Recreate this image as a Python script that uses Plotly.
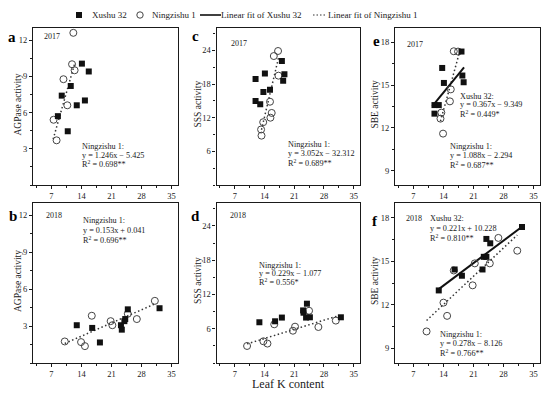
import plotly.graph_objects as go

# ---------------- data ----------------
# Panel a (2017, AGPase)
a_xushu_x = [14.1, 15.7, 11.5, 9.4, 14.8, 12.9, 8.5, 10.8]
a_xushu_y = [10.05, 9.4, 8.2, 7.4, 7.0, 6.6, 5.7, 4.45]
a_ning_x = [12.1, 11.8, 12.4, 9.8, 10.7, 7.5, 8.2]
a_ning_y = [12.6, 10.0, 9.5, 8.76, 6.6, 5.4, 3.7]

# Panel b (2018, AGPase)
b_xushu_x = [12.9, 16.5, 18.3, 23.2, 23.4, 24.0, 24.2, 24.8, 32.2]
b_xushu_y = [3.07, 2.85, 1.67, 3.07, 2.71, 3.4, 3.57, 4.36, 4.45]
b_ning_x = [10.1, 13.9, 14.8, 16.4, 20.8, 21.2, 24.8, 26.9, 31.1]
b_ning_y = [1.75, 1.7, 1.37, 3.84, 3.4, 3.07, 4.0, 3.57, 5.05]

# Panel c (2017, SSS)
c_xushu_x = [18.1, 18.7, 18.4, 11.9, 14.1, 15.3, 13.75, 11.9, 13.0]
c_xushu_y = [22.1, 19.75, 18.6, 18.9, 19.9, 17.0, 16.6, 15.0, 14.4]
c_ning_x = [17.2, 16.2, 17.3, 15.3, 15.7, 15.4, 13.7, 13.2, 13.3]
c_ning_y = [23.9, 23.0, 19.5, 14.85, 12.85, 12.0, 11.2, 9.9, 8.8]

# Panel d (2018, SSS)
d_xushu_x = [12.8, 16.5, 18.1, 23.1, 23.2, 24.0, 23.8, 24.7, 32.0]
d_xushu_y = [7.13, 7.3, 7.95, 9.2, 8.8, 10.38, 7.95, 8.0, 8.0]
d_ning_x = [9.9, 13.75, 14.7, 16.3, 20.7, 21.2, 24.5, 26.7, 30.8]
d_ning_y = [2.98, 3.8, 3.4, 6.77, 5.65, 6.36, 9.14, 6.3, 7.42]

# Panel e (2017, SBE)
e_xushu_x = [18.2, 13.7, 14.1, 18.4, 18.7, 11.9, 12.9, 11.9]
e_xushu_y = [17.35, 16.2, 15.15, 15.67, 15.2, 13.6, 13.6, 13.0]
e_ning_x = [16.4, 17.4, 15.7, 15.5, 13.5, 13.3, 13.9]
e_ning_y = [17.37, 17.35, 14.7, 13.86, 13.07, 12.65, 11.6]

# Panel f (2018, SBE)
f_xushu_x = [12.9, 16.6, 18.3, 23.1, 23.4, 24.0, 24.0, 24.9, 32.3]
f_xushu_y = [12.99, 14.43, 14.0, 14.43, 15.3, 15.3, 16.53, 16.23, 17.35]
f_ning_x = [10.06, 14.0, 14.85, 16.4, 20.8, 21.3, 24.8, 26.8, 31.2]
f_ning_y = [10.17, 12.15, 11.24, 14.36, 13.34, 14.85, 14.85, 16.6, 15.72]

# fit lines (slope, intercept, x start, x end) as drawn
ning_fit_slope = [1.246, 0.153, 3.2, 0.229, 1.088, 0.278]
ning_fit_intercept = [-5.425, 0.041, -32.7, 1.077, -2.0, 8.126]
ning_fit_xmin = [7.4, 10.1, 13.3, 9.9, 13.3, 10.06]
ning_fit_xmax = [12.4, 31.1, 17.3, 31.0, 17.6, 31.2]
xushu_fit_slope = [None, None, None, None, 0.367, 0.221]
xushu_fit_intercept = [None, None, None, None, 9.349, 10.228]
xushu_fit_xmin = [None, None, None, None, 11.4, 12.9]
xushu_fit_xmax = [None, None, None, None, 18.8, 32.3]

panel_letters = ["a", "b", "c", "d", "e", "f"]
panel_years = ["2017", "2018", "2017", "2018", "2017", "2018"]
y_titles = ["AGPase activity", "AGPase activity", "SSS activity", "SSS activity",
            "SBE activity", "SBE activity"]
x_title = "Leaf K content"
x_ticks = [7, 14, 21, 28, 35]
y_ticks_agp = [3, 6, 9, 12]
y_ticks_sss = [6, 12, 18, 24]
y_ticks_sbe = [9, 12, 15, 18]

ning_labels = [
    ["Ningzishu 1:", "y = 1.246x − 5.425", "R<sup>2</sup> = 0.698**"],
    ["Ningzishu 1:", "y = 0.153x + 0.041", "R<sup>2</sup> = 0.696**"],
    ["Ningzishu 1:", "y = 3.052x − 32.312", "R<sup>2</sup> = 0.689**"],
    ["Ningzishu 1:", "y = 0.229x − 1.077", "R<sup>2</sup> = 0.556*"],
    ["Ningzishu 1:", "y = 1.088x − 2.294", "R<sup>2</sup> = 0.687**"],
    ["Ningzishu 1:", "y = 0.278x − 8.126", "R<sup>2</sup> = 0.766**"],
]
xushu_labels = [None, None, None, None,
                ["Xushu 32:", "y = 0.367x − 9.349", "R<sup>2</sup> = 0.449*"],
                ["Xushu 32:", "y = 0.221x + 10.228", "R<sup>2</sup> = 0.810**"]]
legend_names = ["Xushu 32", "Ningzishu 1", "Linear fit of Xushu 32", "Linear fit of Ningzishu 1"]

# ---------------- layout geometry (pixels) ----------------
W, H = 550, 394
col_px = [(33, 178), (216.5, 360), (395, 540)]
row_px = [(28, 185), (203, 363)]
ytitle_x = [18, 198, 375]

def xd(px):
    return px / W

def yd(py):
    return 1 - py / H

FONT = "Liberation Serif, Times New Roman, serif"
INK = "#1a1a1a"
TXT = 8.2

panels = [
    (a_xushu_x, a_xushu_y, a_ning_x, a_ning_y, 0, 0, [0, 13], y_ticks_agp, 1.5),
    (b_xushu_x, b_xushu_y, b_ning_x, b_ning_y, 0, 1, [0, 13], y_ticks_agp, 1.5),
    (c_xushu_x, c_xushu_y, c_ning_x, c_ning_y, 1, 0, [0, 28], y_ticks_sss, 3),
    (d_xushu_x, d_xushu_y, d_ning_x, d_ning_y, 1, 1, [0, 28], y_ticks_sss, 3),
    (e_xushu_x, e_xushu_y, e_ning_x, e_ning_y, 2, 0, [8, 19], y_ticks_sbe, 1.5),
    (f_xushu_x, f_xushu_y, f_ning_x, f_ning_y, 2, 1, [8, 19], y_ticks_sbe, 1.5),
]

# text placement in pixels: (left x, first-line centre y, line step)
ning_pos = [(80, 146, 9), (81, 220, 10), (286, 144, 9.3), (257, 265, 8.5), (448, 146, 9.5), (438, 334, 9.7)]
xushu_pos = [None, None, None, None, (458, 96, 9), (428, 219, 9.3)]
year_pos = [(42, 36), (44, 215), (229, 43), (228, 215), (405, 44), (404, 219)]
letter_px = [(12, 37), (13, 216), (195, 36), (195, 216), (376, 41), (375, 221)]

fig = go.Figure()
layout = dict(
    width=W, height=H,
    margin=dict(l=0, r=0, t=0, b=0),
    paper_bgcolor="white", plot_bgcolor="white",
    font=dict(family=FONT, color=INK, size=9),
    showlegend=False,
)
annotations = []
shapes = []

for i, (xx, xy, nx, ny, col, row, yr, yt, ydt) in enumerate(panels):
    k = i + 1
    xa = "x" if k == 1 else f"x{k}"
    ya = "y" if k == 1 else f"y{k}"
    xname = "xaxis" if k == 1 else f"xaxis{k}"
    yname = "yaxis" if k == 1 else f"yaxis{k}"
    x0, x1 = col_px[col]
    y0, y1 = row_px[row]
    layout[xname] = dict(
        domain=[xd(x0), xd(x1)], anchor=ya, range=[2.7, 36.5], automargin=False,
        tickvals=x_ticks, ticks="outside", ticklen=3, tickwidth=1, tickcolor=INK,
        showline=True, linecolor=INK, linewidth=1.2, mirror=True,
        showgrid=False, zeroline=False,
        tickfont=dict(size=8.5, family=FONT, color=INK),
        minor=dict(dtick=3.5, tick0=0, ticks="outside", ticklen=2, tickcolor=INK, showgrid=False),
    )
    layout[yname] = dict(
        domain=[yd(y1), yd(y0)], anchor=xa, range=yr, automargin=False,
        tickvals=yt, ticks="outside", ticklen=3, tickwidth=1, tickcolor=INK,
        showline=True, linecolor=INK, linewidth=1.2, mirror=True,
        showgrid=False, zeroline=False,
        tickfont=dict(size=8.5, family=FONT, color=INK),
        minor=dict(dtick=ydt, tick0=0, ticks="outside", ticklen=2, tickcolor=INK, showgrid=False),
    )

    # Ningzishu fit line (dotted)
    lx = [ning_fit_xmin[i], ning_fit_xmax[i]]
    ly = [ning_fit_slope[i] * v + ning_fit_intercept[i] for v in lx]
    fig.add_trace(go.Scatter(x=lx, y=ly, mode="lines", xaxis=xa, yaxis=ya,
                             line=dict(color="#333333", width=1.5, dash="1.5px,2.5px"),
                             name=legend_names[3], hoverinfo="skip"))
    # Xushu fit line (solid)
    if xushu_fit_slope[i] is not None:
        sx = [xushu_fit_xmin[i], xushu_fit_xmax[i]]
        sy = [xushu_fit_slope[i] * v + xushu_fit_intercept[i] for v in sx]
        fig.add_trace(go.Scatter(x=sx, y=sy, mode="lines", xaxis=xa, yaxis=ya,
                                 line=dict(color="#111111", width=2),
                                 name=legend_names[2], hoverinfo="skip"))
    fig.add_trace(go.Scatter(x=nx, y=ny, mode="markers", xaxis=xa, yaxis=ya,
                             marker=dict(symbol="circle-open", size=7, color="#444444",
                                         line=dict(width=1, color="#444444")),
                             name=legend_names[1]))
    fig.add_trace(go.Scatter(x=xx, y=xy, mode="markers", xaxis=xa, yaxis=ya,
                             marker=dict(symbol="square", size=6, color="#111111"),
                             name=legend_names[0]))

    # y-axis title (rotated text)
    annotations.append(dict(text=y_titles[i], xref="paper", yref="paper",
                            x=xd(ytitle_x[col]), y=yd((y0 + y1) / 2 - 2),
                            xanchor="center", yanchor="middle", textangle=-90,
                            showarrow=False, font=dict(size=9.5, family=FONT, color=INK)))
    # texts
    annotations.append(dict(text=panel_years[i], xref="paper", yref="paper",
                            x=xd(year_pos[i][0]), y=yd(year_pos[i][1]),
                            xanchor="left", yanchor="middle", showarrow=False,
                            font=dict(size=8, family=FONT, color=INK)))
    groups = [(ning_labels[i], ning_pos[i])]
    if xushu_labels[i] is not None:
        groups.append((xushu_labels[i], xushu_pos[i]))
    for lines, (lx0, ly0, step) in groups:
        for j, line in enumerate(lines):
            annotations.append(dict(text=line, xref="paper", yref="paper",
                                    x=xd(lx0), y=yd(ly0 + j * step),
                                    xanchor="left", yanchor="middle", showarrow=False,
                                    font=dict(size=TXT, family=FONT, color=INK)))
    annotations.append(dict(text=f"<b>{panel_letters[i]}</b>", xref="paper", yref="paper",
                            x=xd(letter_px[i][0]), y=yd(letter_px[i][1]),
                            xanchor="center", yanchor="middle", showarrow=False,
                            font=dict(size=15, family=FONT, color="#000000")))

# shared x-axis title under panel d
annotations.append(dict(text=x_title, xref="paper", yref="paper",
                        x=xd(288), y=yd(384), xanchor="center", yanchor="middle",
                        borderpad=0, showarrow=False,
                        font=dict(size=12, family=FONT, color=INK)))

# ---------------- manual legend across the top ----------------
LEG_Y = 15
shapes.append(dict(type="rect", xref="paper", yref="paper",
                   x0=xd(76), x1=xd(82), y0=yd(18), y1=yd(12),
                   fillcolor="#111111", line=dict(width=0)))
shapes.append(dict(type="circle", xref="paper", yref="paper",
                   x0=xd(136.8), x1=xd(143.2), y0=yd(18.2), y1=yd(11.8),
                   fillcolor="white", line=dict(width=1, color="#444444")))
shapes.append(dict(type="line", xref="paper", yref="paper",
                   x0=xd(200), x1=xd(221), y0=yd(LEG_Y), y1=yd(LEG_Y),
                   line=dict(width=1.6, color="#111111")))
shapes.append(dict(type="line", xref="paper", yref="paper",
                   x0=xd(313), x1=xd(327), y0=yd(LEG_Y), y1=yd(LEG_Y),
                   line=dict(width=1.2, color="#333333", dash="1.5px,2px")))
for name, px in zip(legend_names, [90, 150, 219, 326]):
    annotations.append(dict(text=name, xref="paper", yref="paper",
                            x=xd(px), y=yd(LEG_Y), xanchor="left", yanchor="middle",
                            showarrow=False, font=dict(size=9, family=FONT, color=INK)))

layout["annotations"] = annotations
layout["shapes"] = shapes
fig.update_layout(**layout)
fig.write_html("out.html",
               config={"displayModeBar": False},
               post_script="document.body.style.margin='0';document.body.style.padding='0';"
                           "document.body.style.overflow='hidden';")
